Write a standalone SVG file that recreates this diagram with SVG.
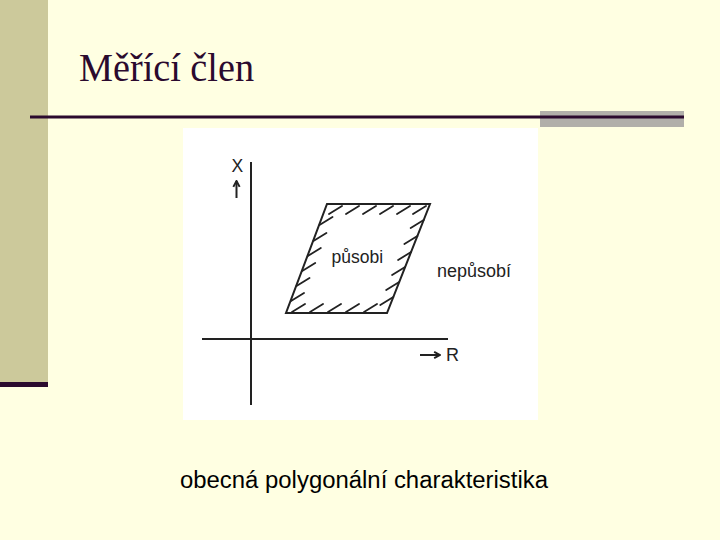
<svg xmlns="http://www.w3.org/2000/svg" width="720" height="540" viewBox="0 0 720 540">
<style>
.ax{stroke:#222222;stroke-width:2;fill:none}
.h{stroke:#222222;stroke-width:1.8;fill:none;stroke-linecap:round}
.lbl{font-family:"Liberation Sans",Arial,sans-serif;fill:#222222}
</style>
<defs>
<marker id="ah" viewBox="0 0 10 10" refX="8.5" refY="5" markerWidth="9" markerHeight="9" orient="auto" markerUnits="userSpaceOnUse">
<path d="M2,1.5 L8.5,5 L2,8.5" fill="none" stroke="#222222" stroke-width="2.2" stroke-linejoin="miter"/>
</marker>
</defs>
<rect width="720" height="540" fill="#FFFFE2"/>
<g id="sidebar">
<rect x="0" y="0" width="48" height="382" fill="#CCC99B"/>
<rect x="0" y="382" width="48" height="5" fill="#2B0A2E"/>
</g>
<g id="title">
<text x="79" y="81" font-family="'Liberation Serif','Times New Roman',serif" font-size="39" fill="#2B0A2E" textLength="175" lengthAdjust="spacingAndGlyphs">Měřící člen</text>
<rect x="540" y="111" width="144" height="16" fill="#B1AFAA"/>
<rect x="30" y="115.5" width="654" height="3" fill="#2B0A2E"/>
</g>
<g id="figure">
<rect x="183" y="128" width="355" height="292" fill="#FFFFFF"/>
<g id="connectors">
<line class="ax" x1="251" y1="162" x2="251" y2="405"/>
<line class="ax" x1="202" y1="339" x2="448" y2="339"/>
<line class="ax" x1="236.5" y1="198" x2="236.5" y2="181" marker-end="url(#ah)" stroke-width="2.2"/>
<line class="ax" x1="420" y1="355" x2="440" y2="355" marker-end="url(#ah)" stroke-width="2.2"/>
</g>
<g id="region">
<polygon class="ax" points="327,204 430,204 387,313 286,313"/>
<path class="h" d="M329,214 l13,-8 M346,214 l13,-8 M363,214 l13,-8 M380,214 l13,-8 M397,214 l13,-8 M413,214 l13,-8
M291,301 l13,-8 M296.5,286 l13,-8 M302.2,271 l13,-8 M307.8,256 l13,-8 M313.4,241 l13,-8 M319.5,225 l13,-8
M380.3,305 l13,-8 M386.2,290 l13,-8 M392.1,275 l13,-8 M398.1,260 l13,-8 M404.4,244 l13,-8 M410.7,228 l13,-8
M292,312 l13,-8 M310,312 l13,-8 M328,312 l13,-8 M346,312 l13,-8 M364,312 l13,-8"/>
</g>
<text class="lbl" x="231.5" y="172" font-size="17.5">X</text>
<text class="lbl" x="446" y="361" font-size="18">R</text>
<text class="lbl" x="331.5" y="262.5" font-size="17.5">působi</text>
<text class="lbl" x="437" y="277" font-size="18">nepůsobí</text>
</g>
<g id="caption">
<text x="180" y="488" font-family="'Liberation Sans',Arial,sans-serif" font-size="23.5" fill="#000000" textLength="368" lengthAdjust="spacingAndGlyphs">obecná polygonální charakteristika</text>
</g>
</svg>
